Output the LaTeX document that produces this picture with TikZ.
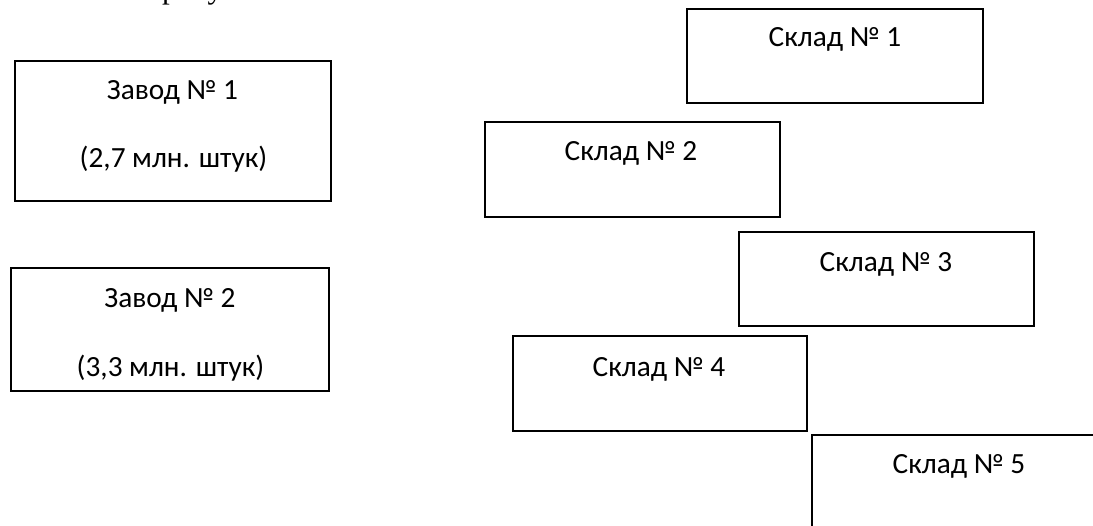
\documentclass[tikz,border=0pt]{standalone}
\usepackage{fontspec}
\setmainfont{Carlito}
\newfontfamily\serifcut{Liberation Serif}
\tikzset{
  x=1pt,y=-1pt,
  boxshape/.style={draw=black,line width=1.5pt,fill=white},
  lbl/.style={inner sep=0pt,anchor=base,font=\fontsize{29.3}{34}\selectfont,text=black},
}
\begin{document}
\begin{tikzpicture}
\useasboundingbox (0,0) rectangle (1093,526);
\begin{scope}
\clip (0,0) rectangle (1093,526);
\fill[white] (0,0) rectangle (1093,526);
\node[inner sep=0pt,anchor=base west,font=\serifcut\fontsize{31}{36}\selectfont] (cut) at (162,-1.5) {рисунке};
\draw[boxshape] (15,61) rectangle (331,201);
\draw[boxshape] (11,268) rectangle (329,391);
\draw[boxshape] (687,9) rectangle (983,103);
\draw[boxshape] (485,122) rectangle (780,217);
\draw[boxshape] (739,232) rectangle (1034,326);
\draw[boxshape] (513,336) rectangle (807,431);
\draw[boxshape] (812,435) rectangle (1110,540);
\end{scope}
\node[lbl] (z1a) at (172.5,99.5) {Завод № 1};
\node[lbl] (z1b) at (173.5,168) {(2,7 млн. штук)};
\node[lbl] (z2a) at (170,308) {Завод № 2};
\node[lbl] (z2b) at (170.5,377) {(3,3 млн. штук)};
\node[lbl] (s1) at (835,47) {Склад № 1};
\node[lbl] (s2) at (631,161) {Склад № 2};
\node[lbl] (s3) at (886,272) {Склад № 3};
\node[lbl] (s4) at (659,377) {Склад № 4};
\node[lbl] (s5) at (959,474) {Склад № 5};
\end{tikzpicture}
\end{document}
